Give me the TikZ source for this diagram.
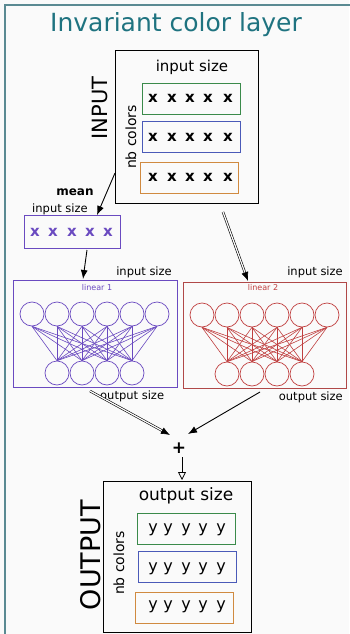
\documentclass[tikz,border=0pt]{standalone}
\usepackage{fontspec}
\setmainfont{DejaVu Sans}
\usetikzlibrary{arrows.meta}
\definecolor{teal1}{HTML}{1F7380}
\definecolor{frame1}{HTML}{5A8A92}
\definecolor{grn}{HTML}{3A8A4A}
\definecolor{blu}{HTML}{4A5AB8}
\definecolor{org}{HTML}{D08A40}
\definecolor{vio}{HTML}{6A4AC0}
\definecolor{redbox}{HTML}{B04848}
\definecolor{redc}{HTML}{C04040}
\definecolor{bg}{HTML}{FAFAFA}
\tikzset{
  rowbox/.style={draw=#1, line width=1pt, minimum width=98pt, minimum height=31pt, inner sep=0pt},
  lbl/.style={font=\fontsize{#1}{#1}\selectfont, inner sep=0pt},
  xmark/.style={font=\fontsize{15}{15}\selectfont\bfseries, inner sep=0pt},
  ymark/.style={font=\fontsize{16}{16}\selectfont, inner sep=0pt},
  neuron/.style={circle, draw=#1, line width=0.7pt, minimum size=24pt, inner sep=0pt},
  arr/.style={-{Latex[length=9pt,width=7pt]}, line width=0.9pt},
  dblarr/.style={-{Latex[length=9pt,width=7pt]}, line width=0.6pt, double, double distance=1.2pt}
}
\begin{document}
\begin{tikzpicture}[x=1pt,y=-1pt]
\useasboundingbox (0,0) rectangle (349,634);
\fill[bg] (0,0) rectangle (349,634);
% outer frame
\draw[frame1, line width=1.4pt] (5,654) -- (5,5) -- (360,5);
\node[lbl=25, text=teal1] (title) at (176,25) {Invariant color layer};

% input block
\node[draw, line width=1pt, minimum width=143pt, minimum height=152pt, inner sep=0pt] (inbox) at (186.5,127) {};
\node[lbl=15] (insz) at (192,67) {input size};
\node[rowbox=grn] (r1) at (191,98.5) {};
\node[rowbox=blu] (r2) at (191.5,137) {};
\node[rowbox=org] (r3) at (189.5,178) {};
\foreach \r/\y in {1/98,2/137,3/177}{
  \foreach \x [count=\i] in {153,172,190,208,228}{
    \node[xmark] (x\r\i) at (\x,\y) {x};
  }
}
\node[lbl=14, rotate=90] (nbin) at (131,137) {nb colors};
\node[lbl=21, rotate=90] (inlab) at (100,108) {INPUT};

% mean
\coordinate (meanfrom) at (115,173);
\coordinate (meanto) at (97,215);
\node[lbl=12] (mean) at (75,192) {\textbf{mean}};
\node[lbl=11.5] (meansz) at (60,209) {input size};
\node[draw=vio, line width=1pt, minimum width=96pt, minimum height=33pt, inner sep=0pt] (meanbox) at (72,231.5) {};
\foreach \x [count=\i] in {35,53,72,90,108}{
  \node[xmark, text=vio] (m\i) at (\x,232) {x};
}
\draw[arr] (meanfrom) -- (meanto);

% linear 1
\node[draw=vio, line width=0.8pt, minimum width=164pt, minimum height=107pt, inner sep=0pt] (lin1) at (95,333.5) {};
\node[lbl=8, text=vio] (lin1t) at (97,288) {linear 1};
\node[lbl=11.5, anchor=east] (l1in) at (172,272) {input size};
\node[lbl=11.5, anchor=west] (l1out) at (100,396) {output size};
\foreach \x [count=\i] in {32,57,82,107,132,157}{
  \node[neuron=vio] (a\i) at (\x,314) {};
}
\foreach \x [count=\i] in {57,82,107,132}{
  \node[neuron=vio] (b\i) at (\x,373) {};
}
\foreach \i in {1,...,6}{\foreach \j in {1,...,4}{
  \draw[vio, line width=0.6pt] (a\i.south) -- (b\j.north);
}}
\coordinate (l1from) at (87,250);
\coordinate (l1to) at (83,279);
\draw[arr] (l1from) -- (l1to);

% linear 2
\node[draw=redbox, line width=0.8pt, minimum width=163pt, minimum height=106pt, inner sep=0pt] (lin2) at (264.5,335) {};
\node[lbl=8, text=redc] (lin2t) at (263,288) {linear 2};
\node[lbl=11.5, anchor=east] (l2in) at (343,272) {input size};
\node[lbl=11.5, anchor=east] (l2out) at (343,397) {output size};
\foreach \x [count=\i] in {202,227,252,277,302,327}{
  \node[neuron=redc] (c\i) at (\x,315) {};
}
\foreach \x [count=\i] in {227,252,277,302}{
  \node[neuron=redc] (d\i) at (\x,374) {};
}
\foreach \i in {1,...,6}{\foreach \j in {1,...,4}{
  \draw[redc, line width=0.6pt] (c\i.south) -- (d\j.north);
}}
\coordinate (l2from) at (223,212);
\coordinate (l2to) at (248,281);
\draw[dblarr] (l2from) -- (l2to);

% sum
\node[lbl=17] (plus) at (179,448) {\textbf{+}};
\coordinate (p1from) at (90,391);
\coordinate (p1to) at (170,435);
\coordinate (p2from) at (260,392);
\coordinate (p2to) at (188,434);
\draw[dblarr] (p1from) -- (p1to);
\draw[arr] (p2from) -- (p2to);

% output block
\node[draw, line width=1pt, minimum width=148pt, minimum height=151pt, inner sep=0pt] (outbox) at (177,556.5) {};
\coordinate (sumfrom) at (182,457);
\coordinate (sumto) at (182,480);
\draw[-{Triangle[open,length=8pt,width=8pt]}, line width=0.8pt] (sumfrom) -- (sumto);
\node[lbl=17] (outsz) at (186,496) {output size};
\node[rowbox=grn] (s1) at (186,528.5) {};
\node[rowbox=blu] (s2) at (187,567) {};
\node[rowbox=org] (s3) at (184.5,608) {};
\foreach \r/\y in {1/530,2/569,3/607}{
  \foreach \x [count=\i] in {153,168,186,203,221}{
    \node[ymark] (y\r\i) at (\x,\y) {y};
  }
}
\node[lbl=14, rotate=90] (nbout) at (119,563) {nb colors};
\node[lbl=27, rotate=90] (outlab) at (91,555) {OUTPUT};
\end{tikzpicture}
\end{document}
